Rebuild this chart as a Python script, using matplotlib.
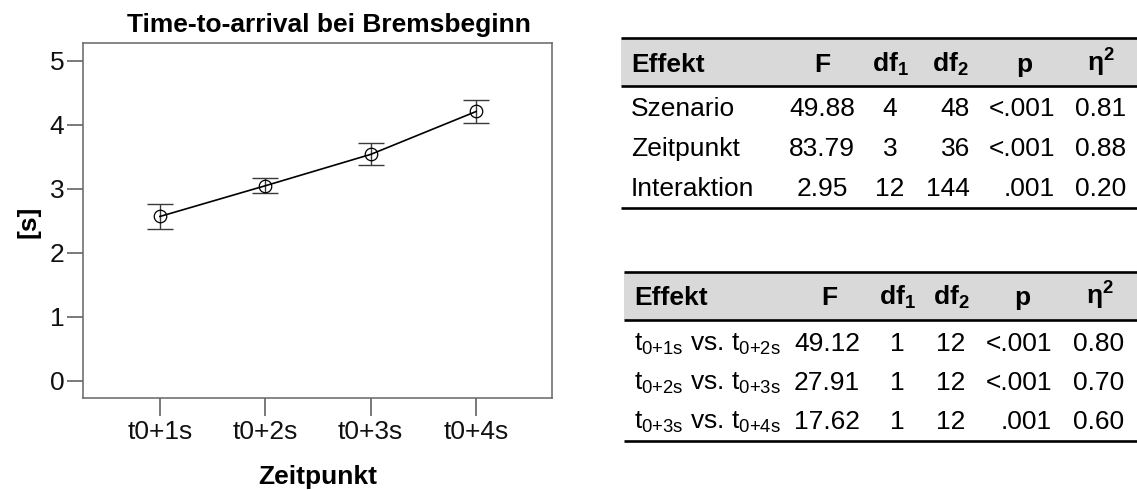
import matplotlib.pyplot as plt
from matplotlib.patches import Rectangle

plt.rcParams['font.family'] = ['Liberation Sans', 'DejaVu Sans']
plt.rcParams['mathtext.fontset'] = 'custom'
plt.rcParams['mathtext.rm'] = 'Liberation Sans'
plt.rcParams['mathtext.it'] = 'Liberation Sans:italic'
plt.rcParams['mathtext.bf'] = 'Liberation Sans:bold'

# time-to-arrival at brake onset, mean and error per time point
time_labels = ['t0+1s', 't0+2s', 't0+3s', 't0+4s']
tta_mean = [2.57, 3.05, 3.54, 4.21]
tta_err = [0.19, 0.12, 0.17, 0.18]

# ANOVA table
effects = ['Szenario', 'Zeitpunkt', 'Interaktion']
anova_F = ['49.88', '83.79', '2.95']
anova_df1 = ['4', '3', '12']
anova_df2 = ['48', '36', '144']
anova_p = ['<.001', '<.001', '.001']
anova_eta2 = ['0.81', '0.88', '0.20']

# contrasts between neighbouring time points ({+} keeps mathtext from padding the plus)
contrasts = [r'$\mathrm{t_{0{+}1s}}$ vs. $\mathrm{t_{0{+}2s}}$',
             r'$\mathrm{t_{0{+}2s}}$ vs. $\mathrm{t_{0{+}3s}}$',
             r'$\mathrm{t_{0{+}3s}}$ vs. $\mathrm{t_{0{+}4s}}$']
contrast_F = ['49.12', '27.91', '17.62']
contrast_df1 = ['1', '1', '1']
contrast_df2 = ['12', '12', '12']
contrast_p = ['<.001', '<.001', '.001']
contrast_eta2 = ['0.80', '0.70', '0.60']

W, H = 1137, 490
FS = 19
fig = plt.figure(figsize=(W / 100, H / 100), dpi=100)

# overlay in pixel coordinates for titles and tables
ov = fig.add_axes([0, 0, 1, 1])
ov.set_xlim(0, W)
ov.set_ylim(H, 0)
ov.axis('off')
ov.patch.set_visible(False)

ax = fig.add_axes([83 / W, 1 - 398 / H, (552 - 83) / W, (398 - 43) / H])
xs = list(range(1, len(tta_mean) + 1))
ax.errorbar(xs, tta_mean, yerr=tta_err, fmt='none', ecolor='#3a3a3a',
            elinewidth=1.0, capsize=9.4, capthick=1.0)
ax.plot(xs, tta_mean, color='black', lw=1.2, marker='o', ms=9,
        mfc='none', mec='black', mew=0.9)
ax.set_xlim(0.27, 4.72)
ax.set_ylim(-0.266, 5.28)
ax.set_xticks(xs, time_labels)
ax.set_yticks(range(6))
ax.tick_params(axis='both', direction='out', width=1.1, color='#555555',
               labelsize=FS, labelcolor='#111111')
ax.tick_params(axis='y', length=11.5, pad=2)
ax.tick_params(axis='x', length=13, pad=3)
for sp in ax.spines.values():
    sp.set_color('#666666')
    sp.set_linewidth(1.1)

ov.text(329, 32, 'Time-to-arrival bei Bremsbeginn', fontsize=FS, fontweight='bold',
        ha='center', va='baseline')
ov.text(318, 484, 'Zeitpunkt', fontsize=FS, fontweight='bold', ha='center', va='baseline')
ov.text(29, 222, '[s]', fontsize=FS, fontweight='bold', rotation=90, ha='center', va='center')


def draw_table(x0, top, head_line, bottom, head_base, row_bases, label_x, cols, rows):
    ov.add_patch(Rectangle((x0, top), W - x0, head_line - top, color='#d9d9d9', lw=0))
    for yl in (top, head_line, bottom):
        ov.plot([x0, W], [yl, yl], color='black', lw=1.9, solid_capstyle='butt')
    ov.text(label_x, head_base, 'Effekt', fontsize=FS, fontweight='bold', va='baseline')
    headers = ['F', r'$\mathbf{df_1}$', r'$\mathbf{df_2}$', 'p', r'$\mathbf{\eta^2}$']
    for hdr, (hx, _, _) in zip(headers, cols):
        ov.text(hx, head_base, hdr, fontsize=FS, fontweight='bold', ha='center', va='baseline')
    labels, columns = rows
    for i, yb in enumerate(row_bases):
        ov.text(label_x, yb, labels[i], fontsize=FS, va='baseline')
        for (_, vx, ha), vals in zip(cols, columns):
            ov.text(vx, yb, vals[i], fontsize=FS, ha=ha, va='baseline')


# columns: header centre, value anchor, value alignment
draw_table(621, 38, 86, 208, 72, [116, 156, 196], 631,
           [(822, 822, 'center'), (890, 890, 'center'), (950, 970, 'right'),
            (1024, 1055, 'right'), (1101, 1101, 'center')],
           (effects, [anova_F, anova_df1, anova_df2, anova_p, anova_eta2]))

draw_table(624, 272, 320, 441, 305, [351, 390, 429], 634,
           [(829, 827, 'center'), (897, 897, 'center'), (951, 965, 'right'),
            (1022, 1052, 'right'), (1100, 1099, 'center')],
           (contrasts, [contrast_F, contrast_df1, contrast_df2, contrast_p, contrast_eta2]))

fig.savefig('out.png', dpi=100)
